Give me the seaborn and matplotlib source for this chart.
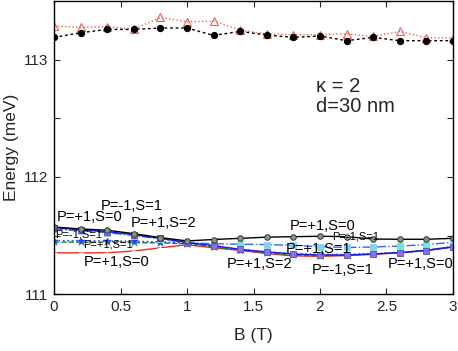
import numpy as np
import seaborn as sns
import matplotlib
matplotlib.use("Agg")
import matplotlib.pyplot as plt

# magnetic field values (T)
B = np.round(np.arange(0, 3.01, 0.2), 1)

# upper pair of levels (meV)
top_red = [113.289, 113.275, 113.281, 113.261, 113.360, 113.323, 113.329, 113.253,
           113.219, 113.213, 113.213, 113.219, 113.198, 113.241, 113.187, 113.187]
top_black = [113.190, 113.230, 113.258, 113.258, 113.270, 113.270, 113.207, 113.241,
             113.210, 113.190, 113.202, 113.162, 113.190, 113.162, 113.162, 113.162]

# lower cluster of levels (meV)
lev_black = [111.573, 111.556, 111.545, 111.516, 111.482, 111.454, 111.466, 111.476,
             111.486, 111.490, 111.494, 111.490, 111.470, 111.468, 111.468, 111.476]
lev_blue = [111.567, 111.548, 111.532, 111.508, 111.476, 111.440, 111.414, 111.382,
            111.360, 111.342, 111.334, 111.334, 111.342, 111.354, 111.372, 111.402]
lev_cyan = [111.555, 111.540, 111.524, 111.500, 111.470, 111.440, 111.430, 111.426,
            111.423, 111.415, 111.405, 111.398, 111.402, 111.410, 111.423, 111.442]
lev_star = [111.457, 111.455, 111.453, 111.450, 111.445, 111.436, 111.410, 111.380,
            111.360, 111.345, 111.338, 111.338, 111.345, 111.356, 111.374, 111.406]
lev_green = [111.443, 111.443, 111.443, 111.440, 111.437, 111.430, 111.402, 111.376,
             111.350, 111.333, 111.328, 111.332, 111.342, 111.354, 111.374, 111.404]
lev_red = [111.352, 111.352, 111.353, 111.368, 111.395, 111.422, 111.394, 111.374,
           111.346, 111.326, 111.323, 111.329, 111.340, 111.352, 111.374, 111.403]

# state labels: (text, B, E, small)
labels = [
    ("P=+1,S=0", 0.02, 111.621, False),
    ("P=-1,S=1", 0.35, 111.715, False),
    ("P=+1,S=2", 0.575, 111.573, False),
    ("P=-1,S=1", 0.005, 111.482, True),
    ("P=+1,S=1", 0.22, 111.394, True),
    ("P=+1,S=0", 0.22, 111.241, False),
    ("P=+1,S=0", 1.77, 111.55, False),
    ("P=-1,S=1", 2.09, 111.462, True),
    ("P=+1,S=1", 1.745, 111.35, False),
    ("P=+1,S=2", 1.30, 111.22, False),
    ("P=-1,S=1", 1.94, 111.17, False),
    ("P=+1,S=0", 2.51, 111.219, False),
]

sns.set_style("ticks")
plt.rcParams['font.family'] = ['Liberation Sans', 'DejaVu Sans']

fig = plt.figure(figsize=(4.58, 3.51), dpi=100)
ax = fig.add_axes([0.118, 0.162, 0.871, 0.835])

sns.lineplot(x=B, y=top_red, ax=ax, color='#f06050', linestyle=':', lw=1,
             marker='^', markersize=5.5, mfc='none', mec='#f06050', mew=0.8)
sns.lineplot(x=B, y=top_black, ax=ax, color='black', linestyle=(0, (2, 2)), lw=1,
             marker='o', markersize=4.5, mfc='black', mec='black')

sns.lineplot(x=B, y=lev_red, ax=ax, color='#ee2a20', linestyle='-', lw=1,
             marker='+', markersize=5, mew=0.8)
sns.lineplot(x=B, y=lev_green, ax=ax, color='#2a7a2a', linestyle='--', lw=1,
             marker='x', markersize=4, mec='#33cc33', mew=0.8)
sns.lineplot(x=B, y=lev_star, ax=ax, color='#2244ff', linestyle=':', lw=1.2,
             marker='*', markersize=5, mec='#2244ff', mfc='#2244ff')
sns.lineplot(x=B, y=lev_cyan, ax=ax, color='#3366ff', linestyle='-.', lw=1,
             marker='s', markersize=4.5, mfc='#66e8d8', mec='#a0c0ff', mew=0.6)
sns.lineplot(x=B, y=lev_blue, ax=ax, color='#1a1aee', linestyle='-', lw=1,
             marker='s', markersize=4, mfc='#8a70e0', mec='#5050d0', mew=0.6)
sns.lineplot(x=B, y=lev_black, ax=ax, color='black', linestyle='-', lw=1,
             marker='o', markersize=4, mfc='#7a9a90', mec='#333333', mew=0.7)

for txt, bx, ey, small in labels:
    ax.text(bx, ey, txt, fontsize=8 if small else 10.5, ha='left', va='baseline',
            color='black')

ax.text(1.97, 112.72, "κ = 2", fontsize=14.5, ha='left', va='baseline')
ax.text(1.97, 112.55, "d=30 nm", fontsize=14.5, ha='left', va='baseline')

ax.set_xlim(0, 3)
ax.set_ylim(111, 113.5)
ax.set_xticks(np.arange(0, 3.01, 0.5))
ax.set_xticklabels(['0', '0.5', '1', '1.5', '2', '2.5', '3'])
ax.set_yticks([111, 112, 113])
ax.set_yticks([111.5, 112.5], minor=True)
ax.tick_params(which='both', direction='in', top=True, right=True, length=4,
               width=0.8, labelsize=11, pad=4)
for s in ax.spines.values():
    s.set_linewidth(1)
    s.set_color('black')

ax.set_xlabel("B (T)", fontsize=12.5, labelpad=10)
ax.set_ylabel("Energy (meV)", fontsize=12.5, labelpad=4)

fig.savefig("out.png", dpi=100)
